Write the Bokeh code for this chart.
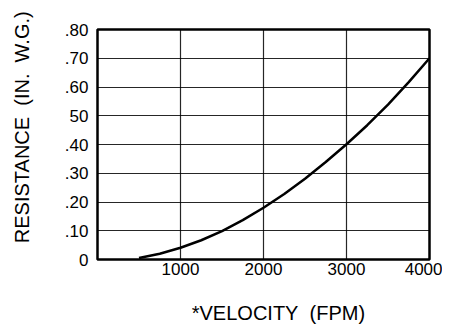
from bokeh.plotting import figure
from bokeh.models import Range1d, FixedTicker, LinearAxis
from bokeh.embed import file_html
from bokeh.resources import INLINE

velocity = [500, 750, 1000, 1250, 1500, 1750, 2000, 2250, 2500, 2750, 3000, 3250, 3500, 3750, 4000]
resistance = [0.005, 0.02, 0.041, 0.067, 0.099, 0.137, 0.18, 0.228, 0.281, 0.339, 0.401, 0.467, 0.539, 0.617, 0.70]

x_ticks = [1000, 2000, 3000, 4000]
x_tick_labels = ["1000", "2000", "3000", "4000"]
y_ticks = [0, 0.1, 0.2, 0.3, 0.4, 0.5, 0.6, 0.7, 0.8]
y_tick_labels = ["0", ".10", ".20", ".30", ".40", "50", ".60", ".70", ".80"]

x_title = "*VELOCITY\u00a0 (FPM)"
y_title = "RESISTANCE\u00a0 (IN.\u00a0 W.G.)"
# where (in data units) each axis title is centred, as in the reference
x_title_at = 2180
y_title_at = 0.46

FONT = "Liberation Sans"

p = figure(width=442, height=327, output_backend="svg", toolbar_location=None,
           x_range=Range1d(0, 4000), y_range=Range1d(0, 0.8),
           min_border_left=97, min_border_right=13, min_border_top=29, min_border_bottom=68)
p.background_fill_color = "white"
p.border_fill_color = "white"
p.outline_line_color = "black"
p.outline_line_width = 2.5

p.line(velocity, resistance, line_color="black", line_width=2.5)

p.xaxis.ticker = FixedTicker(ticks=x_ticks)
p.xaxis.major_label_overrides = {t: l for t, l in zip(x_ticks, x_tick_labels)}
p.yaxis.ticker = FixedTicker(ticks=y_ticks)
p.yaxis.major_label_overrides = {t: l for t, l in zip(y_ticks, y_tick_labels)}

xt = LinearAxis(ticker=FixedTicker(ticks=[x_title_at]),
                major_label_overrides={x_title_at: x_title})
yt = LinearAxis(ticker=FixedTicker(ticks=[y_title_at]),
                major_label_overrides={y_title_at: y_title},
                major_label_orientation="vertical")
p.add_layout(xt, "below")
p.add_layout(yt, "left")

for ax in (p.xaxis[0], p.yaxis[0], xt, yt):
    ax.axis_line_color = None
    ax.major_tick_line_color = None
    ax.minor_tick_line_color = None
    ax.major_tick_out = 0
    ax.major_tick_in = 0
    ax.major_label_text_font = FONT
    ax.major_label_text_font_size = "17px"
    ax.major_label_text_color = "black"
p.xaxis[0].major_label_standoff = 3
p.yaxis[0].major_label_standoff = 9
xt.major_label_text_font_size = "20px"
yt.major_label_text_font_size = "20px"
xt.major_label_standoff = 24
yt.major_label_standoff = 29

p.xgrid.ticker = FixedTicker(ticks=x_ticks)
p.ygrid.ticker = FixedTicker(ticks=y_ticks)
p.grid.grid_line_color = "black"
p.grid.grid_line_width = 1.2
p.grid.grid_line_alpha = 0.85

open("out.html", "w").write(file_html(p, INLINE))
